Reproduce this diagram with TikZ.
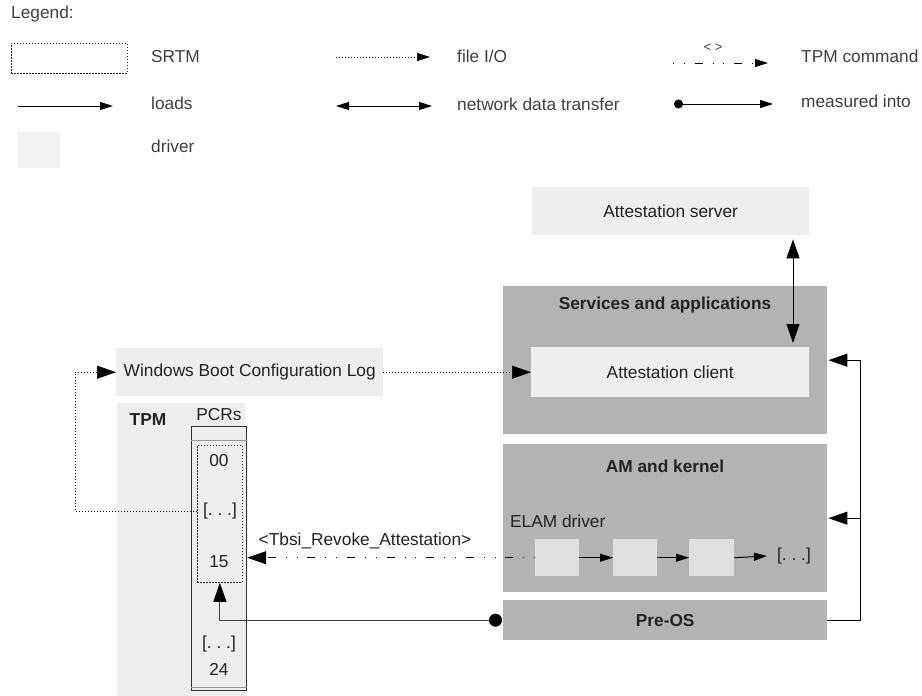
\documentclass[tikz,border=0pt]{standalone}
\usepackage{fontspec}
\setmainfont{Liberation Sans}
\usetikzlibrary{arrows.meta}
\definecolor{lightfill}{HTML}{EEEEEE}
\definecolor{drvfill}{HTML}{E0E0E0}
\definecolor{legdrv}{HTML}{F2F2F2}
\definecolor{darkfill}{HTML}{B3B3B3}
\definecolor{txt}{HTML}{222222}
\begin{document}
\begin{tikzpicture}[x=1pt,y=-1pt,
  font=\fontsize{17.3}{20}\selectfont, text=txt,
  boxnw/.style={anchor=north west, inner sep=0pt, draw=none},
  lightbox/.style={boxnw, fill=lightfill},
  darkbox/.style={boxnw, fill=darkfill},
  drvbox/.style={boxnw, fill=drvfill, minimum width=44pt, minimum height=37pt},
  srtmbox/.style={boxnw, draw=black!85, line width=0.8pt, dash pattern=on 1.5pt off 1.5pt},
  lbl/.style={anchor=west, inner sep=0pt},
  ttl/.style={inner sep=0pt, font=\fontsize{17.3}{20}\selectfont\bfseries},
  fileio/.style={line width=0.7pt, dash pattern=on 1pt off 2pt, -{Triangle[length=19pt,width=13pt]}},
  legfile/.style={line width=0.7pt, dash pattern=on 1pt off 2pt, -{Triangle[length=13pt,width=8pt]}},
  loadsarrow/.style={line width=0.9pt, -{Triangle[length=13pt,width=8pt]}},
  bigloads/.style={line width=1pt, -{Triangle[length=19pt,width=13pt]}},
  smallloads/.style={line width=1pt, -{Triangle[length=13pt,width=8pt]}},
  netarrow/.style={line width=1pt, {Triangle[length=19pt,width=13pt]}-{Triangle[length=19pt,width=13pt]}},
  legnet/.style={line width=0.9pt, {Triangle[length=13pt,width=8pt]}-{Triangle[length=13pt,width=8pt]}},
  tpmcmd/.style={line width=0.9pt, dash pattern=on 0.8pt off 10pt on 0.8pt off 10pt on 8pt off 10pt, -{Triangle[length=19pt,width=13pt]}},
  legtpm/.style={line width=0.9pt, dash pattern=on 0.8pt off 10pt on 0.8pt off 10pt on 8pt off 10pt, -{Triangle[length=13pt,width=8pt]}},
  measured/.style={line width=1pt, draw=black!75, {Circle[length=13pt,black]}-{Triangle[length=19pt,width=13pt,black]}},
  legmeas/.style={line width=0.9pt, {Circle[length=9pt]}-{Triangle[length=13pt,width=8pt]}}
]
\useasboundingbox (0,0) rectangle (922,696);

% ---------------- Legend ----------------
\node[lbl, text=black!75] (legend) at (11,14) {Legend:};
\node[srtmbox, minimum width=116pt, minimum height=30pt] (lgsrtm) at (11,43) {};
\node[lbl, text=black!75] (tsrtm) at (151,57) {SRTM};
\coordinate (lf1) at (336,57); \coordinate (lf2) at (430,57);
\draw[legfile] (lf1) -- (lf2);
\node[lbl, text=black!75] (tfile) at (457,56) {file I/O};
\coordinate (lt1) at (673,63); \coordinate (lt2) at (768,63);
\draw[legtpm] (lt1) -- (lt2);
\node[inner sep=0pt, text=black!75, font=\fontsize{13}{15}\selectfont] (ltlab) at (713,48) {< >};
\node[lbl, text=black!75] (ttpm) at (801,56) {TPM command};

\coordinate (ll1) at (18,106); \coordinate (ll2) at (113,106);
\draw[loadsarrow] (ll1) -- (ll2);
\node[lbl, text=black!75] (tloads) at (151,103) {loads};
\coordinate (ln1) at (336,106); \coordinate (ln2) at (432,106);
\draw[legnet] (ln1) -- (ln2);
\node[lbl, text=black!75] (tnet) at (457,104) {network data transfer};
\coordinate (lm1) at (674,104); \coordinate (lm2) at (773,104);
\draw[legmeas] (lm1) -- (lm2);
\node[lbl, text=black!75] (tmeas) at (801,101) {measured into};

\node[boxnw, fill=legdrv, minimum width=43pt, minimum height=36pt] (lgdrv) at (17,132) {};
\node[lbl, text=black!75] (tdrv) at (151,146) {driver};

% ---------------- Main boxes ----------------
\node[lightbox, minimum width=277pt, minimum height=48pt] (srv) at (532,187) {Attestation server};

\node[darkbox, minimum width=324pt, minimum height=148pt] (svc) at (503,286) {};
\node[ttl] (svct) at (665,305) {Services and applications};
\node[lightbox, minimum width=278pt, minimum height=50pt] (client) at (531,347) {Attestation client};

\node[darkbox, minimum width=324pt, minimum height=148pt] (am) at (503,444) {};
\node[ttl] (amt) at (665,466) {AM and kernel};
\node[lbl] (elam) at (510,521) {ELAM driver};
\node[drvbox] (d1) at (535,539) {};
\node[drvbox] (d2) at (613,539) {};
\node[drvbox, minimum width=45pt] (d3) at (689,539) {};
\node[inner sep=0pt] (ddots) at (794,556) {[.\ .\ .]};

\node[darkbox, minimum width=324pt, minimum height=40pt, font=\fontsize{17.3}{20}\selectfont\bfseries] (preos) at (503,600) {Pre-OS};

\node[lightbox, minimum width=267pt, minimum height=48pt] (wbcl) at (116,348) {Windows Boot Configuration Log};

\node[lightbox, minimum width=128pt, minimum height=293pt] (tpm) at (117,403) {};
\node[ttl] (tpmt) at (148,420) {TPM};
\node[inner sep=0pt] (pcrs) at (219,415) {PCRs};
\node[boxnw, draw=black!80, line width=1.2pt, fill=lightfill, minimum width=55pt, minimum height=264pt] (pcrcol) at (191,426) {};
\draw[black!40, line width=1pt] ([yshift=-14pt]pcrcol.north west) -- ([yshift=-14pt]pcrcol.north east);
\draw[black!40, line width=1pt] ([yshift=4pt]pcrcol.south west) -- ([yshift=4pt]pcrcol.south east);
\node[srtmbox, minimum width=45pt, minimum height=137pt] (srtm) at (197,445) {};
\node[inner sep=0pt] (p00) at (219,461) {00};
\node[inner sep=0pt] (pdots) at (220,511) {[.\ .\ .]};
\node[inner sep=0pt] (p15) at (219,562) {15};
\node[inner sep=0pt] (pdots2) at (219,644) {[.\ .\ .]};
\node[inner sep=0pt] (p24) at (219,669) {24};

% ---------------- Connectors ----------------
\draw[fileio] (wbcl.east) -- (client.west);
\coordinate (lx) at (75,0);
\draw[fileio] (srtm.west |- pdots) -| (lx |- wbcl.west) -- (wbcl.west);

\coordinate (nx) at (793,0);
\draw[netarrow, shorten <=4pt, shorten >=4pt] (nx |- srv.south) -- (nx |- client.north);

\coordinate (rx) at (860,0);
\draw[bigloads] (preos.east) -| (rx |- svc.east) -- ([xshift=1pt]svc.east);
\draw[bigloads] (rx |- am.east) -- ([xshift=1pt]am.east);

\draw[smallloads] (d1.east) -- (d2.west);
\draw[smallloads] (d2.east) -- (d3.west);
\draw[smallloads] (d3.east) -- ([xshift=-10pt]ddots.west);

\draw[tpmcmd] (d1.west) -- (pcrcol.east |- d1.west);
\node[inner sep=0pt] (revoke) at (365,541) {<Tbsi\_Revoke\_Attestation>};

\draw[measured] ([xshift=-1pt]preos.west) -| (srtm.south);
\end{tikzpicture}
\end{document}
